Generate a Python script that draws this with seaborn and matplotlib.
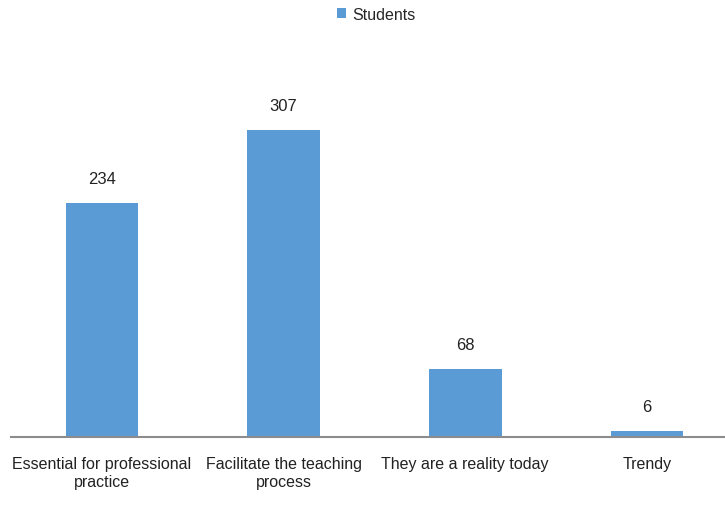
import matplotlib
matplotlib.use('Agg')
import matplotlib.pyplot as plt
import seaborn as sns
import pandas as pd

categories = ['Essential for professional\npractice', 'Facilitate the teaching\nprocess',
              'They are a reality today', 'Trendy']
students = [234, 307, 68, 6]
series_name = 'Students'

df = pd.DataFrame({'category': categories, 'value': students, 'series': series_name})

sns.set_style('white')
plt.rcParams['font.family'] = ['Liberation Sans Narrow', 'Liberation Sans', 'DejaVu Sans']

fig = plt.figure(figsize=(7.25, 5.06), dpi=100)
ax = fig.add_axes([11 / 725, 68 / 506, 714 / 725, 350 / 506])

sns.barplot(data=df, x='category', y='value', hue='series', palette=['#5B9BD5'],
            width=0.4, saturation=1, linewidth=0, ax=ax, legend=True)

ax.set_xlim(-0.5, 3.43)
ax.set_ylim(0, 350)
ax.set_xlabel('')
ax.set_ylabel('')
ax.set_yticks([])
ax.tick_params(axis='x', length=0, pad=14, labelsize=11.5, colors='#222222')
for s in ['top', 'right', 'left']:
    ax.spines[s].set_visible(False)
ax.spines['bottom'].set_color('#8c8c8c')
ax.spines['bottom'].set_linewidth(1.5)

for container in ax.containers:
    ax.bar_label(container, padding=12, fontsize=12, color='#222222')

leg = ax.legend(loc='upper center', bbox_to_anchor=(382 / 725 - 11 / 714, 1.27),
                frameon=False, fontsize=11.5, handlelength=0.6, handleheight=0.6,
                handletextpad=0.4)

fig.savefig('out.png', dpi=100)
